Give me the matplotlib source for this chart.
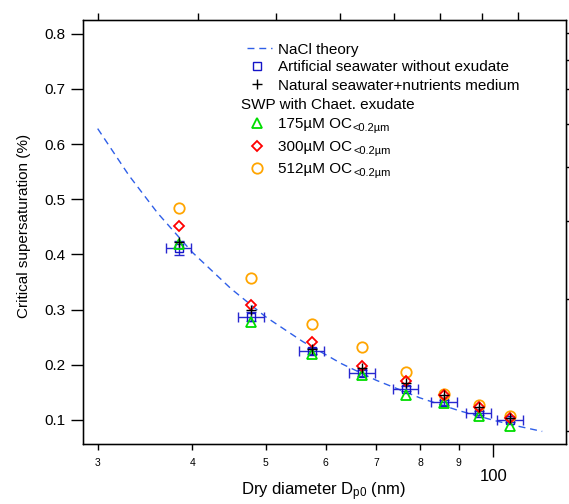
import matplotlib
matplotlib.use('Agg')
import matplotlib.pyplot as plt
from matplotlib.ticker import FixedLocator, FixedFormatter, NullFormatter, NullLocator

plt.rcParams['font.family'] = ['Liberation Sans', 'DejaVu Sans']
plt.rcParams['mathtext.fontset'] = 'custom'
plt.rcParams['mathtext.rm'] = 'Liberation Sans'
plt.rcParams['mathtext.it'] = 'Liberation Sans:italic'

# --- data ---
diam = [38.4, 47.9, 57.5, 67.1, 76.6, 86.0, 95.7, 105.2]       # dry diameter (nm)

artificial = [0.412, 0.287, 0.225, 0.185, 0.157, 0.132, 0.113, 0.100]
artificial_xerr = [1.5, 1.9, 2.2, 2.6, 3.0, 3.4, 3.7, 4.1]
artificial_yerr = [0.013, 0.008, 0.006, 0.005, 0.004, 0.004, 0.004, 0.004]
natural = [0.4225, 0.300, 0.229, 0.194, 0.167, 0.146, 0.124, 0.104]
oc175 = [0.419, 0.278, 0.220, 0.181, 0.146, 0.131, 0.108, 0.090]
oc300 = [0.451, 0.309, 0.241, 0.1975, 0.1715, 0.146, 0.124, 0.104]
oc512 = [0.484, 0.358, 0.274, 0.233, 0.187, 0.147, 0.127, 0.107]

# NaCl theory curve
nacl_d = [30, 33, 36, 40, 45, 50, 56, 63, 70, 80, 90, 100, 108, 116]
nacl_sc = [0.628, 0.543, 0.475, 0.404, 0.338, 0.287, 0.242, 0.202,
           0.172, 0.140, 0.117, 0.0995, 0.0885, 0.0793]

x_minor = [30, 40, 50, 60, 70, 80, 90]
x_minor_labels = ['3', '4', '5', '6', '7', '8', '9']
y_ticks = [0.1, 0.2, 0.3, 0.4, 0.5, 0.6, 0.7, 0.8]
y_tick_labels = ['0.1', '0.2', '0.3', '0.4', '0.5', '0.6', '0.7', '0.8']
right_ticks = [0.801, 0.752, 0.699, 0.637, 0.559, 0.460, 0.320, 0.080]

BLUE = '#1414c8'
NACL = '#2f5fe8'
GREEN = '#00dd00'
RED = '#ff0000'
ORANGE = '#ffa500'

W, H = 569, 504
fig = plt.figure(figsize=(W / 100, H / 100), dpi=100)
ax = fig.add_axes([83 / W, 60 / H, 483 / W, 424 / H])

ax.set_xscale('log')
ax.set_xlim(28.69, 124.7)
ax.set_ylim(0.0565, 0.8248)

# theory line
ax.plot(nacl_d, nacl_sc, color=NACL, lw=1, ls=(0, (5, 3.5)), zorder=2)

# artificial seawater with error bars
ax.errorbar(diam, artificial, xerr=artificial_xerr, yerr=artificial_yerr, fmt='none',
            ecolor='#2828d0', elinewidth=1, capsize=3.3, capthick=1, zorder=3)
ax.plot(diam, artificial, ls='none', marker='s', ms=6, mfc='none', mec=BLUE, mew=1, zorder=4)

ax.plot(diam, oc175, ls='none', marker='^', ms=7, mfc='none', mec=GREEN, mew=1.3, zorder=4)
ax.plot(diam, oc512, ls='none', marker='o', ms=7.5, mfc='none', mec=ORANGE, mew=1.3, zorder=5)
ax.plot(diam, oc300, ls='none', marker='D', ms=5.5, mfc='none', mec=RED, mew=1.3, zorder=6)
ax.plot(diam, natural, ls='none', marker='+', ms=7, color='black', mew=1, zorder=7)

# ticks, Igor style
ax.xaxis.set_major_locator(FixedLocator([100]))
ax.xaxis.set_major_formatter(FixedFormatter(['100']))
ax.xaxis.set_minor_locator(FixedLocator(x_minor))
ax.xaxis.set_minor_formatter(FixedFormatter(x_minor_labels))
ax.yaxis.set_major_locator(FixedLocator(y_ticks))
ax.yaxis.set_major_formatter(FixedFormatter(y_tick_labels))
ax.yaxis.set_minor_locator(NullLocator())
ax.tick_params(axis='x', which='major', direction='out', length=9.4, width=1,
               labelsize=12, pad=8.5, top=False)
ax.tick_params(axis='x', which='minor', direction='out', length=4.3, width=1,
               labelsize=7.5, pad=5.5, top=False)
ax.tick_params(axis='y', which='major', direction='out', length=8.4, width=1,
               labelsize=11, pad=4, right=False)
for s in ax.spines.values():
    s.set_linewidth(1)

# top axis (unlabelled)
axt = ax.twiny()
axt.set_xscale('log')
axt.set_xlim(28.76, 114.6)
axt.xaxis.set_major_locator(FixedLocator([100]))
axt.xaxis.set_minor_locator(FixedLocator(x_minor))
axt.xaxis.set_major_formatter(NullFormatter())
axt.xaxis.set_minor_formatter(NullFormatter())
axt.tick_params(axis='x', which='major', direction='out', length=6, width=1)
axt.tick_params(axis='x', which='minor', direction='out', length=4.8, width=1)

# right axis (unlabelled)
axr = ax.twinx()
axr.set_ylim(ax.get_ylim())
axr.yaxis.set_major_locator(FixedLocator(right_ticks))
axr.yaxis.set_major_formatter(NullFormatter())
axr.yaxis.set_minor_locator(NullLocator())
axr.tick_params(axis='y', direction='out', length=2.5, width=1)

# axis labels
fig.text(324 / W, 1 - 492 / H, r'Dry diameter D$_{\mathregular{p0}}$ (nm)', fontsize=12,
         ha='center', va='center')
fig.text(24 / W, 1 - 226 / H, 'Critical supersaturation (%)', fontsize=11,
         ha='center', va='center', rotation=90)

# legend, drawn by hand
def axpt(px, py):
    return (px - 83) / 483, (444 - py) / 424

hx, tx = 257.3, 278.3
x0, y0 = axpt(246.7, 48.3)
x1, _ = axpt(271.7, 48.3)
ax.plot([x0, x1], [y0, y0], transform=ax.transAxes, color=NACL, lw=1,
        ls=(0, (5, 3.5)), clip_on=False)

legend_rows = [
    (54, 'NaCl theory', None, None),
    (71, 'Artificial seawater without exudate',
     dict(marker='s', ms=6, mfc='none', mec=BLUE, mew=1), 65.7),
    (90, 'Natural seawater+nutrients medium',
     dict(marker='+', ms=7, color='black', mew=1), 84.3),
    (128.3, '175µM OC', dict(marker='^', ms=7, mfc='none', mec=GREEN, mew=1.3), 122.7),
    (150.7, '300µM OC', dict(marker='D', ms=5.5, mfc='none', mec=RED, mew=1.3), 146),
    (173.3, '512µM OC', dict(marker='o', ms=7.5, mfc='none', mec=ORANGE, mew=1.3), 168.3),
]
for base, label, mk, my in legend_rows:
    bx, by = axpt(tx, base)
    t = ax.text(bx, by, label, transform=ax.transAxes, fontsize=11, va='baseline')
    if label.endswith('OC'):
        ax.annotate('<0.2µm', xy=(1, 0), xycoords=t, xytext=(0.5, 0),
                    textcoords='offset points', fontsize=8, va='baseline')
    if mk is not None:
        mx, mky = axpt(hx, my)
        ax.plot([mx], [mky], transform=ax.transAxes, ls='none', clip_on=False, **mk)

sx, sy = axpt(240.7, 109)
ax.text(sx, sy, 'SWP with Chaet. exudate', transform=ax.transAxes, fontsize=11,
        va='baseline')

fig.savefig('out.png', dpi=100, facecolor='white')
